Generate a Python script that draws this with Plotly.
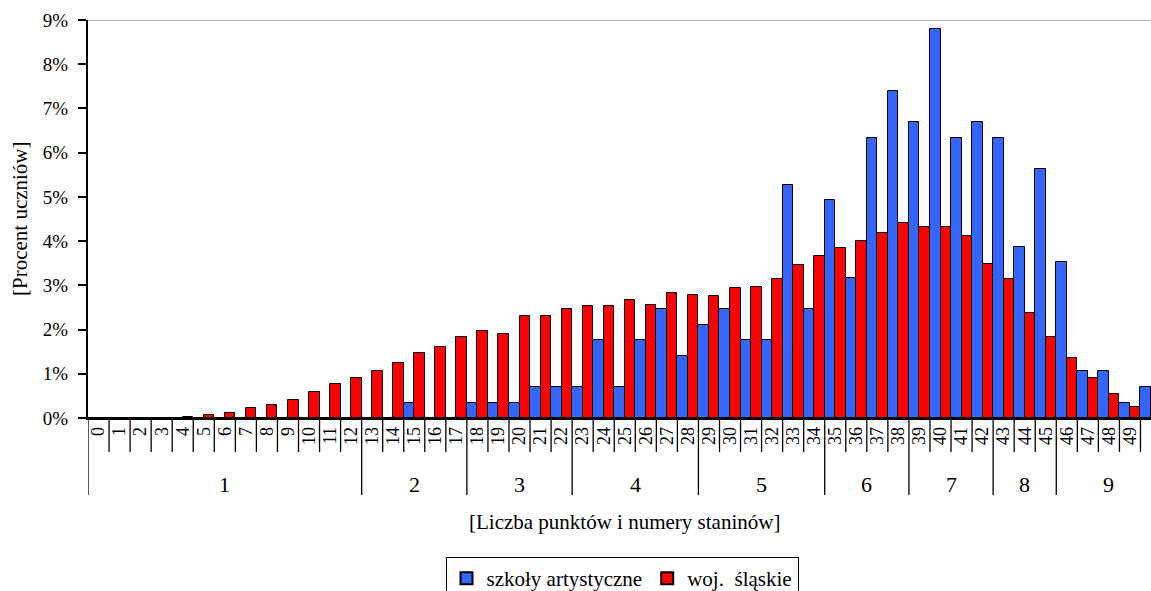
import plotly.graph_objects as go

# ---- data ----
points = list(range(0, 51))
point_labels = [str(p) for p in points]

# szkoły artystyczne (%)
blue = [0, 0, 0, 0, 0, 0, 0, 0, 0, 0,
        0, 0, 0, 0, 0, 0.35, 0, 0, 0.35, 0.35,
        0.35, 0.70, 0.70, 0.70, 1.76, 0.70, 1.76, 2.46, 1.41, 2.11,
        2.46, 1.76, 1.76, 5.28, 2.46, 4.93, 3.17, 6.34, 7.39, 6.69,
        8.80, 6.34, 6.69, 6.34, 3.87, 5.63, 3.52, 1.06, 1.06, 0.35,
        0.70]
# woj. śląskie (%)
red = [0, 0, 0, 0, 0.03, 0.07, 0.11, 0.22, 0.29, 0.41,
       0.58, 0.76, 0.91, 1.06, 1.25, 1.47, 1.61, 1.83, 1.97, 1.90,
       2.30, 2.30, 2.46, 2.53, 2.53, 2.67, 2.56, 2.83, 2.79, 2.75,
       2.93, 2.97, 3.15, 3.45, 3.67, 3.85, 4.00, 4.18, 4.40, 4.32,
       4.32, 4.11, 3.49, 3.15, 2.38, 1.83, 1.35, 0.91, 0.54, 0.25,
       0.10]

stanine_names = ["1", "2", "3", "4", "5", "6", "7", "8", "9"]
stanine_first = [0, 13, 18, 23, 29, 35, 39, 43, 46]
stanine_last = [12, 17, 22, 28, 34, 38, 42, 45, 50]

y_ticks = [0, 1, 2, 3, 4, 5, 6, 7, 8, 9]
y_tick_labels = [f"{v}%" for v in y_ticks]

series_names = ["szkoły artystyczne", "woj.  śląskie"]

# ---- layout constants ----
W, H = 1151, 591
ML, MR, MT, MB = 88, 0, 20, 173
PH = H - MT - MB
PW = W - ML - MR
FONT = "Liberation Serif, Times New Roman, serif"
BLUE = "#3366FF"
RED = "#FF0000"


def px_down(px):
    return -px / PH


def px_x(px):
    return (px - ML) / PW


fig = go.Figure()
fig.add_trace(go.Bar(x=points, y=blue, name=series_names[0],
                     marker=dict(color=BLUE, line=dict(color="black", width=1))))
fig.add_trace(go.Bar(x=points, y=red, name=series_names[1],
                     marker=dict(color=RED, line=dict(color="black", width=1))))

shapes = []
# separators between point labels
boundaries = [s for s in stanine_first] + [stanine_last[-1] + 1]
for p in points + [points[-1] + 1]:
    long = p in boundaries
    shapes.append(dict(type="line", xref="x", yref="paper",
                       x0=p - 0.5, x1=p - 0.5, y0=0,
                       y1=px_down(77 if long else 34),
                       line=dict(color="black", width=1.3)))
# top border line
shapes.append(dict(type="line", xref="paper", yref="y", x0=0, x1=1,
                   y0=y_ticks[-1], y1=y_ticks[-1],
                   line=dict(color="#999999", width=1.3)))

annotations = []
for name, a, b in zip(stanine_names, stanine_first, stanine_last):
    annotations.append(dict(x=(a + b) / 2, y=px_down(66), xref="x", yref="paper",
                            text=name, showarrow=False, yanchor="middle",
                            font=dict(family=FONT, size=22, color="black")))
annotations.append(dict(x=(points[0] + points[-1]) / 2, y=px_down(104), xref="x", yref="paper",
                        text="[Liczba punktów i numery staninów]", showarrow=False,
                        yanchor="middle",
                        font=dict(family=FONT, size=21, color="black")))
annotations.append(dict(x=px_x(20), y=0.5, xref="paper", yref="paper",
                        text="[Procent uczniów]", showarrow=False, textangle=-90,
                        xanchor="center", yanchor="middle",
                        font=dict(family=FONT, size=21, color="black")))

fig.update_layout(
    width=W, height=H,
    margin=dict(l=ML, r=MR, t=MT, b=MB, pad=0, autoexpand=False),
    paper_bgcolor="white", plot_bgcolor="white",
    barmode="group", bargap=0, bargroupgap=0,
    font=dict(family=FONT, size=19, color="black"),
    showlegend=True,
    legend=dict(orientation="h", x=px_x(622), xanchor="center",
                y=px_down(557 - MT - PH), yanchor="top",
                bordercolor="black", borderwidth=1,
                font=dict(family=FONT, size=21, color="black"),
                itemwidth=30, tracegroupgap=0,
                itemsizing="constant"),
    shapes=shapes,
    annotations=annotations,
    xaxis=dict(range=[-0.5, 50.0], tickmode="array", tickvals=points,
               ticktext=point_labels, tickangle=-90, ticks="",
               showline=True, linecolor="black", linewidth=1.5,
               showgrid=False, zeroline=False, automargin=False,
               tickfont=dict(family=FONT, size=18, color="black")),
    yaxis=dict(range=[0, 9], tickmode="array", tickvals=y_ticks,
               ticktext=y_tick_labels, ticks="outside", ticklen=8,
               tickcolor="black", tickwidth=1.5, ticklabelstandoff=6,
               showline=True, linecolor="black", linewidth=2,
               showgrid=False, zeroline=False, automargin=False,
               tickfont=dict(family=FONT, size=19, color="black")),
)

fig.write_html("out.html", config={"displayModeBar": False},
               post_script="document.body.style.margin='0';")
